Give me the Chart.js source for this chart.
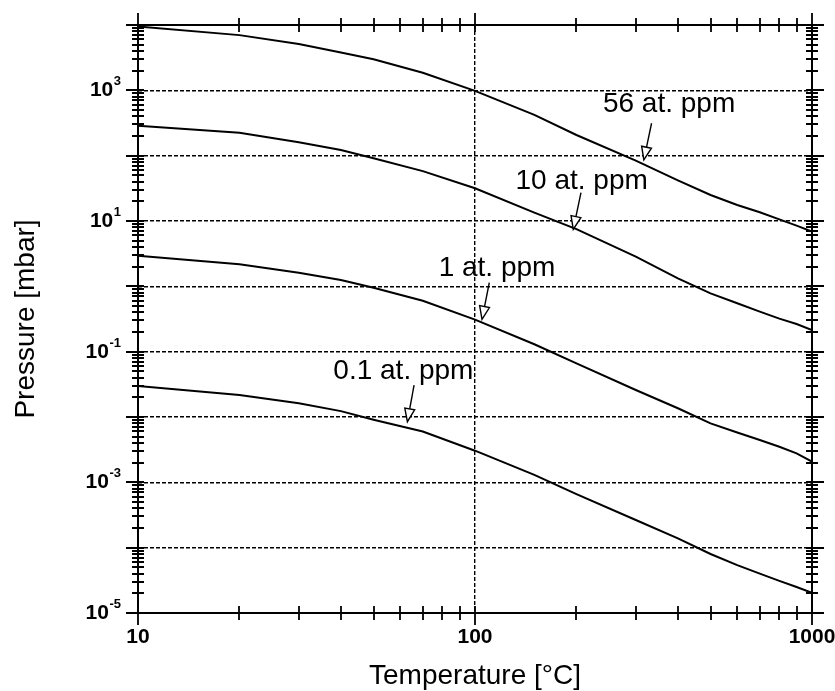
<!DOCTYPE html>
<html><head><meta charset="utf-8">
<script src="https://cdn.jsdelivr.net/npm/chart.js@4.4.1/dist/chart.umd.min.js"></script>
<style>html,body{margin:0;padding:0;background:#fff;}canvas{display:block;}</style>
</head><body>
<canvas id="c" width="835" height="691"></canvas>
<script>
// ---- data ----
const temperatures = [10, 20, 30, 40, 50, 70, 100, 150, 200, 300, 400, 500, 600, 700, 800, 900, 1000];
const p56ppm = [9500, 7000, 5100, 3800, 3000, 1860, 980, 420, 207, 84, 42, 25, 17.6, 13.6, 10.6, 8.5, 6.9];
const p10ppm = [288, 224, 160, 122, 91, 58, 31.7, 13.4, 7.5, 2.84, 1.32, 0.78, 0.55, 0.41, 0.32, 0.265, 0.214];
const p1ppm = [2.95, 2.17, 1.62, 1.25, 0.95, 0.60, 0.31, 0.13, 0.066, 0.0259, 0.0136, 0.0080, 0.0058, 0.00445, 0.00351, 0.00278, 0.00207];
const p01ppm = [0.0298, 0.0217, 0.0162, 0.0123, 0.0091, 0.0060, 0.00305, 0.0013, 0.00066, 0.000265, 0.000139, 0.000080, 0.000054, 0.000040, 0.000031, 0.000025, 0.0000204];
const seriesLabels = ['56 at. ppm', '10 at. ppm', '1 at. ppm', '0.1 at. ppm'];
const xTickLabels = ['10', '100', '1000'];
const yTickExponents = [3, 1, -1, -3, -5];
const xTitle = 'Temperature [°C]';
const yTitle = 'Pressure [mbar]';
// arrow tip of each series label, in data coordinates (T, P)
const arrowTipT = [317, 195.7, 104.9, 63.0];
const arrowTipP = [86, 7.46, 0.3126, 0.00847];

// ---- styles ----
const FONT = '"Liberation Sans", Arial, Helvetica, sans-serif';
const arrowTail = [[7.7, -36.7], [7.7, -36.6], [7.3, -36.6], [6.7, -36.7]];
const labelOffset = [[25.2, -48.3], [8.4, -40], [15, -43.3], [-4, -42.4]];

const seriesValues = [p56ppm, p10ppm, p1ppm, p01ppm];
const datasets = seriesValues.map((vals, i) => ({
  label: seriesLabels[i],
  data: temperatures.map((t, k) => ({x: t, y: vals[k]})),
  borderColor: '#000', borderWidth: 2, pointRadius: 0, tension: 0, fill: false
}));

function isDecade(v) { const l = Math.log10(v); return Math.abs(l - Math.round(l)) < 1e-6; }

const decorPlugin = {
  id: 'decor',
  beforeDraw(chart) {
    const c = chart.ctx; c.save(); c.fillStyle = '#fff'; c.fillRect(0, 0, chart.width, chart.height); c.restore();
  },
  afterDraw(chart) {
    const ctx = chart.ctx, xs = chart.scales.x, ys = chart.scales.y, a = chart.chartArea;
    ctx.save();
    ctx.strokeStyle = '#000'; ctx.fillStyle = '#000';
    // tick marks crossing all four axes
    ctx.lineWidth = 1.8;
    ctx.beginPath();
    const xv = [];
    for (let e = 1; e <= 2; e++) for (let m = 1; m <= 9; m++) xv.push(m * Math.pow(10, e));
    xv.push(1000);
    xv.forEach(v => {
      const px = Math.round(xs.getPixelForValue(v));
      const out = isDecade(v) ? 12 : 7;
      ctx.moveTo(px, a.bottom - 7); ctx.lineTo(px, a.bottom + out);
      ctx.moveTo(px, a.top + 7); ctx.lineTo(px, a.top - out);
    });
    const yv = [];
    for (let e = -5; e <= 3; e++) for (let m = 1; m <= 9; m++) yv.push(m * Math.pow(10, e));
    yv.push(1e4);
    yv.forEach(v => {
      const py = Math.round(ys.getPixelForValue(v));
      const out = isDecade(v) ? 12 : 6;
      ctx.moveTo(a.left + 6, py); ctx.lineTo(a.left - out, py);
      ctx.moveTo(a.right - 6, py); ctx.lineTo(a.right + out, py);
    });
    ctx.stroke();
    // frame
    ctx.lineWidth = 2;
    ctx.strokeRect(a.left, a.top, a.right - a.left, a.bottom - a.top);

    // x tick labels
    ctx.font = 'bold 21px ' + FONT;
    ctx.textAlign = 'center'; ctx.textBaseline = 'alphabetic';
    xTickLabels.forEach(s => {
      const px = xs.getPixelForValue(parseFloat(s));
      ctx.fillText(s, px, a.bottom + 30);
    });
    // y tick labels 10^n
    const rightEdge = a.left - 17;
    yTickExponents.forEach(n => {
      const py = ys.getPixelForValue(Math.pow(10, n));
      const ex = n < 0 ? '-' + Math.abs(n) : String(n);
      ctx.font = 'bold 13px ' + FONT;
      ctx.textAlign = 'right';
      const ew = ctx.measureText(ex).width;
      ctx.fillText(ex, rightEdge, py - 5);
      ctx.font = 'bold 21px ' + FONT;
      ctx.fillText('10', rightEdge - ew - 0.5, py + 6);
    });

    // axis titles
    ctx.font = '28px ' + FONT;
    ctx.textAlign = 'center';
    ctx.fillText(xTitle, (a.left + a.right) / 2, 684);
    ctx.save();
    ctx.translate(34, (a.top + a.bottom) / 2);
    ctx.rotate(-Math.PI / 2);
    ctx.fillText(yTitle, 0, 0);
    ctx.restore();

    // series labels with hollow arrows
    seriesLabels.forEach((lab, i) => {
      const tx = xs.getPixelForValue(arrowTipT[i]);
      const ty = ys.getPixelForValue(arrowTipP[i]);
      const sx = tx + arrowTail[i][0], sy = ty + arrowTail[i][1];
      const dx = tx - sx, dy = ty - sy, len = Math.hypot(dx, dy);
      const ux = dx / len, uy = dy / len;
      const hl = 13, hw = 5;
      const bx = tx - ux * hl, by = ty - uy * hl;
      ctx.lineWidth = 1.4;
      ctx.beginPath(); ctx.moveTo(sx, sy); ctx.lineTo(bx, by); ctx.stroke();
      ctx.beginPath();
      ctx.moveTo(tx, ty);
      ctx.lineTo(bx - uy * hw, by + ux * hw);
      ctx.lineTo(bx + uy * hw, by - ux * hw);
      ctx.closePath();
      ctx.fillStyle = '#fff'; ctx.fill(); ctx.stroke();
      ctx.fillStyle = '#000';
      ctx.font = '28px ' + FONT;
      ctx.textAlign = 'center';
      ctx.fillText(lab, tx + labelOffset[i][0], ty + labelOffset[i][1]);
    });
    ctx.restore();
  }
};

new Chart(document.getElementById('c'), {
  type: 'line',
  data: { datasets },
  options: {
    responsive: false, animation: false, devicePixelRatio: 1,
    layout: { padding: { left: 138, top: 25, right: 23, bottom: 78 } },
    plugins: { legend: { display: false }, tooltip: { enabled: false } },
    scales: {
      x: {
        type: 'logarithmic', min: 10, max: 1000,
        ticks: { display: false },
        grid: { drawTicks: false, lineWidth: 1.4,
          color: c => (c.tick && Math.abs(c.tick.value - 100) < 1e-6) ? '#000' : 'rgba(0,0,0,0)' },
        border: { display: false, dash: [4, 2] }
      },
      y: {
        type: 'logarithmic', min: 1e-5, max: 1e4,
        ticks: { display: false },
        grid: { drawTicks: false, lineWidth: 1.4,
          color: c => (c.tick && isDecade(c.tick.value) && c.tick.value > 2e-5 && c.tick.value < 5e3) ? '#000' : 'rgba(0,0,0,0)' },
        border: { display: false, dash: [4, 2] }
      }
    }
  },
  plugins: [decorPlugin]
});
</script>
</body></html>
